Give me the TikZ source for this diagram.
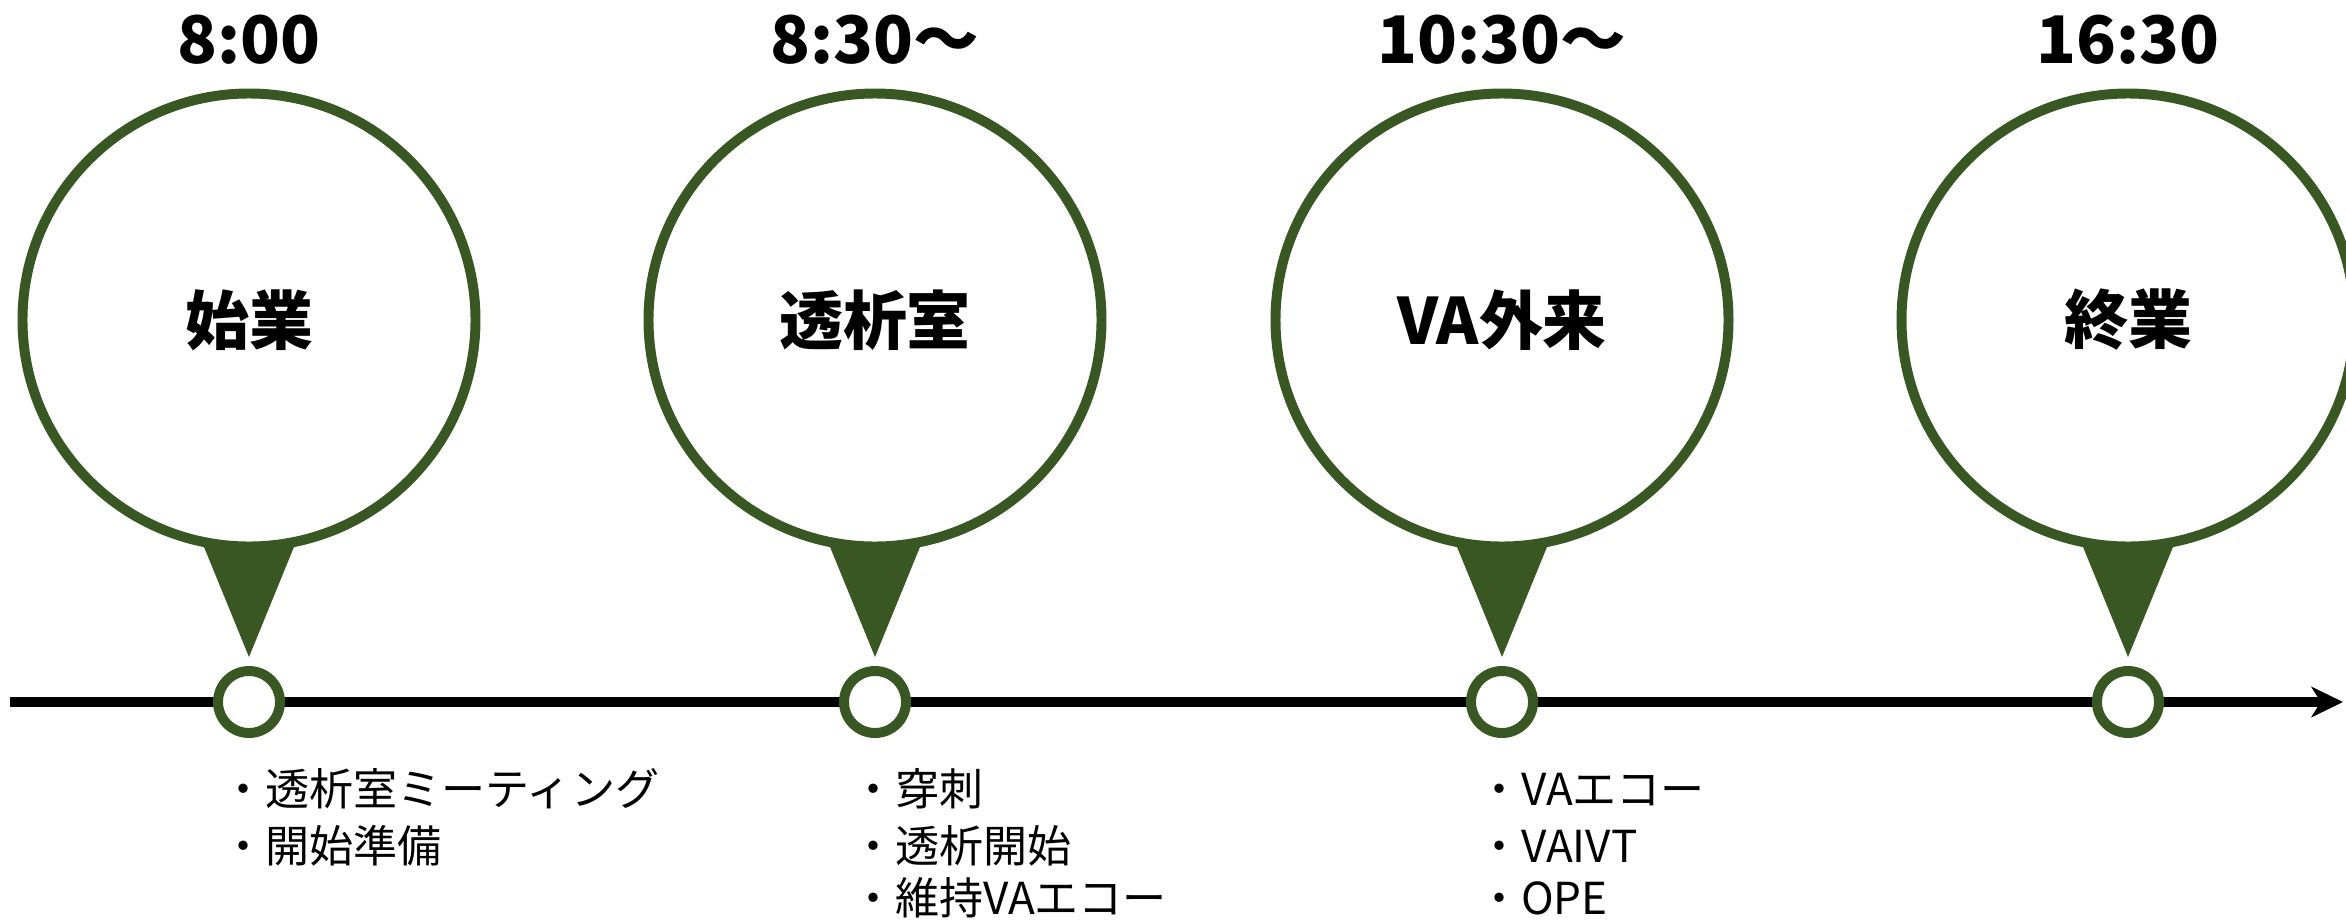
\documentclass[tikz,border=0pt]{standalone}
\usepackage{fontspec}
\setmainfont{Noto Sans CJK JP}
\usetikzlibrary{arrows.meta}
\definecolor{dgreen}{RGB}{56,87,35}
\begin{document}
\begin{tikzpicture}[x=0.03cm,y=-0.03cm,
  bigc/.style={circle, draw=dgreen, line width=8.5pt, fill=white, minimum size=13.59cm, inner sep=0pt,
    font=\fontsize{54.6pt}{60pt}\selectfont\bfseries},
  smallc/.style={circle, draw=dgreen, line width=8.5pt, fill=white, minimum size=1.86cm, inner sep=0pt},
  timel/.style={anchor=base, inner sep=0pt, font=\fontsize{56pt}{60pt}\selectfont\bfseries},
  itemt/.style={anchor=base west, inner sep=0pt, font=\fontsize{37.6pt}{40pt}\selectfont},
  pin/.style={fill=dgreen},
  axisline/.style={line width=8.5pt, -{Stealth[length=27pt,width=26pt,inset=8pt]}}
]
\clip (0,0) rectangle (2346,921);
\useasboundingbox (0,0) rectangle (2346,921);

% axis
\coordinate (axstart) at (10,702);
\coordinate (axend) at (2343,702);
\draw[axisline] (axstart) -- (axend);

% pins
\fill[pin] (193,520) -- (305,520) -- (249,657) -- cycle;
\fill[pin] (819,520) -- (931,520) -- (875,657) -- cycle;
\fill[pin] (1446,520) -- (1558,520) -- (1502,657) -- cycle;
\fill[pin] (2072,520) -- (2184,520) -- (2128,657) -- cycle;

% big circles
\node[bigc] (c1) at (249,320) {始業};
\node[bigc] (c2) at (875,320) {透析室};
\node[bigc] (c3) at (1502,320) {VA外来};
\node[bigc] (c4) at (2128,320) {終業};

% times
\node[timel] (t1) at (249,63) {8:00};
\node[timel] (t2) at (875,63) {8:30～};
\node[timel] (t3) at (1502,63) {10:30～};
\node[timel] (t4) at (2128,63) {16:30};

% markers
\node[smallc] (m1) at (249,702) {};
\node[smallc] (m2) at (875,702) {};
\node[smallc] (m3) at (1502,702) {};
\node[smallc] (m4) at (2128,702) {};

% items
\node[itemt] (a1) at (221,805) {・透析室ミーティング};
\node[itemt] (a2) at (221,862) {・開始準備};
\node[itemt] (b1) at (851,805) {・穿刺};
\node[itemt] (b2) at (851,862) {・透析開始};
\node[itemt] (b3) at (851,914) {・維持VAエコー};
\node[itemt] (d1) at (1477,805) {・VAエコー};
\node[itemt] (d2) at (1477,862) {・VAIVT};
\node[itemt] (d3) at (1477,914) {・OPE};
\end{tikzpicture}
\end{document}
